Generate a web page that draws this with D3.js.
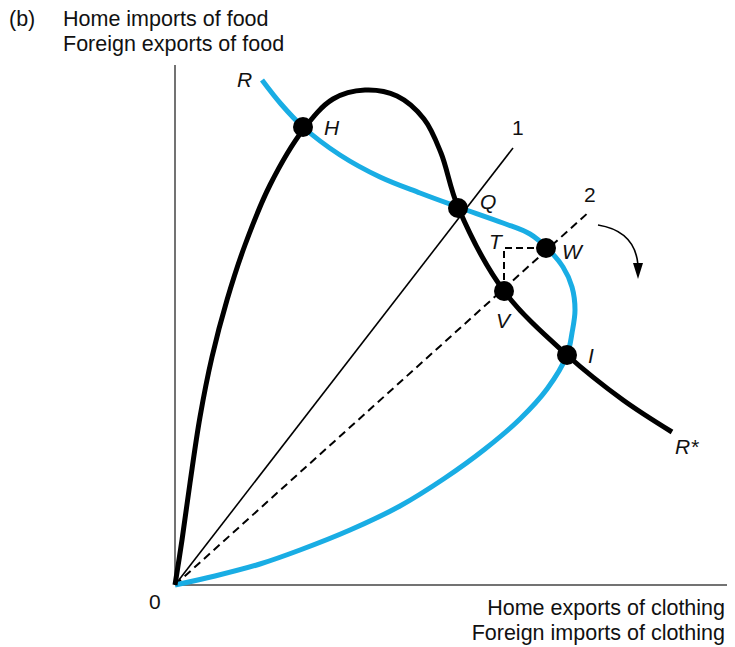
<!DOCTYPE html>
<html>
<head>
<meta charset="utf-8">
<script src="https://cdn.jsdelivr.net/npm/d3@7"></script>
<style>
  body { margin: 0; background: #fff; }
  text { font-family: "Liberation Sans", Arial, sans-serif; fill: #111; }
  .lbl { font-style: italic; }
</style>
</head>
<body>
<script>
// offer curves, in chart units (origin at 0,0)
var homeOffer = [[0,0],[7,45],[15,102],[25,168],[37,228],[52,285],[70,340],[95,400],
    [128,455],[158,486],[190,495],[222,489],[249,466],[266,432],[283,378],
    [329,294],[392,230],[448,185],[497,153]];
var foreignOffer = [[87,505],[106,481],[128,458],[165,430],[205,408],[245,392],[283,378],
    [328,362],[355,351],[372,337],[388,318],[397,298],[400,275],[397,252],[392,230],
    [372,196],[345,166],[310,136],[270,107],[225,79],[175,55],[125,35],[85,21],[40,9],[0,0]];
var ray1 = [[0,0],[338,437]];
var ray2 = [[0,0],[415,374]];
var dots = [
    { name: "H", x: 128, y: 458 },
    { name: "Q", x: 283, y: 377 },
    { name: "W", x: 371, y: 337 },
    { name: "V", x: 329, y: 294 },
    { name: "I", x: 392, y: 230 }
];
var labels = [
    { t: "R", x: 62, y: 498 }, { t: "H", x: 149, y: 450 }, { t: "Q", x: 305, y: 376 },
    { t: "T", x: 314, y: 336 }, { t: "W", x: 387, y: 326 }, { t: "V", x: 321, y: 257 },
    { t: "I", x: 413, y: 222 }, { t: "R*", x: 500, y: 131 }
];
var rayLabels = [{ t: "1", x: 337, y: 450 }, { t: "2", x: 409, y: 383 }];

var svg = d3.select("body").append("svg")
    .attr("width", 735)
    .attr("height", 647);

var x = d3.scaleLinear().domain([0, 550]).range([175, 725]);
var y = d3.scaleLinear().domain([0, 520]).range([585, 65]);

var line = d3.line()
    .x(function(d) { return x(d[0]); })
    .y(function(d) { return y(d[1]); });
var smooth = d3.line()
    .x(function(d) { return x(d[0]); })
    .y(function(d) { return y(d[1]); })
    .curve(d3.curveCatmullRom.alpha(0.5));

// axes
svg.append("line").attr("x1", x(0)).attr("y1", y(0)).attr("x2", x(0)).attr("y2", y(520))
    .attr("stroke", "#444").attr("stroke-width", 1.5);
svg.append("line").attr("x1", x(0)).attr("y1", y(0)).attr("x2", x(552)).attr("y2", y(0))
    .attr("stroke", "#444").attr("stroke-width", 1.5);

// rays
svg.append("path").attr("d", line(ray1)).attr("fill", "none")
    .attr("stroke", "#000").attr("stroke-width", 1.6);
svg.append("path").attr("d", line(ray2)).attr("fill", "none")
    .attr("stroke", "#000").attr("stroke-width", 2).attr("stroke-dasharray", "8,5");

// triangle V-T-W
var V = dots[3], W = dots[2];
svg.append("path").attr("d", line([[V.x, V.y], [V.x, W.y], [W.x, W.y]]))
    .attr("fill", "none").attr("stroke", "#000").attr("stroke-width", 2)
    .attr("stroke-dasharray", "7,4");

// curves
svg.append("path").attr("d", smooth(foreignOffer)).attr("fill", "none")
    .attr("stroke", "#19ade4").attr("stroke-width", 5);
svg.append("path").attr("d", smooth(homeOffer)).attr("fill", "none")
    .attr("stroke", "#000").attr("stroke-width", 5);

// dots
svg.selectAll("circle")
    .data(dots)
    .enter()
    .append("circle")
    .attr("cx", function(d) { return x(d.x); })
    .attr("cy", function(d) { return y(d.y); })
    .attr("r", 10)
    .attr("fill", "#000");

// curved arrow
svg.append("path")
    .attr("d", "M" + x(423) + "," + y(360) + " Q" + x(460) + "," + y(354) + " " + x(463) + "," + y(320))
    .attr("fill", "none").attr("stroke", "#000").attr("stroke-width", 1.6);
svg.append("path")
    .attr("d", line([[458, 322], [468, 322], [463, 306]]) + "Z")
    .attr("fill", "#000");

// labels
svg.selectAll(".lbl")
    .data(labels)
    .enter()
    .append("text")
    .attr("class", "lbl")
    .attr("x", function(d) { return x(d.x); })
    .attr("y", function(d) { return y(d.y); })
    .attr("font-size", 21)
    .text(function(d) { return d.t; });

svg.selectAll(".ray")
    .data(rayLabels)
    .enter()
    .append("text")
    .attr("class", "ray")
    .attr("x", function(d) { return x(d.x); })
    .attr("y", function(d) { return y(d.y); })
    .attr("font-size", 21)
    .text(function(d) { return d.t; });

svg.append("text").attr("x", 149).attr("y", 609).attr("font-size", 21).text("0");

svg.append("text").attr("x", 9).attr("y", 26).attr("font-size", 21.5).text("(b)");
svg.append("text").attr("x", 63).attr("y", 26).attr("font-size", 21.5).text("Home imports of food");
svg.append("text").attr("x", 63).attr("y", 51).attr("font-size", 21.5).text("Foreign exports of food");

svg.append("text").attr("x", 725).attr("y", 615).attr("font-size", 21.5)
    .attr("text-anchor", "end").text("Home exports of clothing");
svg.append("text").attr("x", 725).attr("y", 640).attr("font-size", 21.5)
    .attr("text-anchor", "end").text("Foreign imports of clothing");
</script>
</body>
</html>
